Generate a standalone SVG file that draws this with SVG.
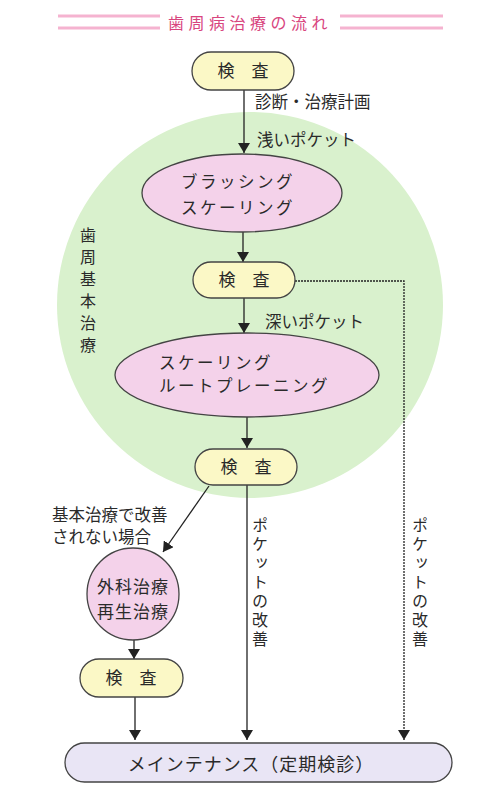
<svg xmlns="http://www.w3.org/2000/svg" width="500" height="797" viewBox="0 0 500 797">
<defs>
<marker id="ah" viewBox="0 0 10 12" refX="10" refY="6" markerWidth="10" markerHeight="12" markerUnits="userSpaceOnUse" orient="auto">
<path d="M0,0 L10,6 L0,12 Z" fill="#222"/>
</marker>
</defs>
<style>
text{font-family:"Noto Sans CJK JP","Noto Sans",sans-serif;fill:#2a2a2a}
.box{fill:#fbf8c6;stroke:#444;stroke-width:1.3}
.pink{fill:#f4d2ea;stroke:#444;stroke-width:1.3}
.lbl{font-size:16.5px}
.vt{font-size:16px;writing-mode:vertical-rl;text-orientation:upright}
.nd{font-size:17px;text-anchor:middle}
.el{font-size:16.5px;letter-spacing:2.5px}
.ln{fill:none;stroke:#222;stroke-width:1.3}
.dt{fill:none;stroke:#222;stroke-width:1.3;stroke-dasharray:2 1}
.tl{stroke:#f5b3d0;stroke-width:3}
</style>
<rect width="500" height="797" fill="#fff"/>
<g id="title">
<line class="tl" x1="58" y1="16" x2="160" y2="16"/>
<line class="tl" x1="58" y1="28" x2="160" y2="28"/>
<line class="tl" x1="340" y1="16" x2="443" y2="16"/>
<line class="tl" x1="340" y1="28" x2="443" y2="28"/>
<text x="250" y="29" text-anchor="middle" style="font-size:16px;letter-spacing:4.5px;fill:#d8457e">歯周病治療の流れ</text>
</g>
<g id="basic-area">
<circle cx="250" cy="305" r="193" fill="#d9f1cd"/>
<text x="88" y="227" class="vt" style="letter-spacing:6px">歯周基本治療</text>
</g>
<g id="connectors">
<line class="ln" x1="244" y1="90" x2="244" y2="153" marker-end="url(#ah)"/>
<line class="ln" x1="243" y1="232" x2="243" y2="262" marker-end="url(#ah)"/>
<line class="ln" x1="244" y1="298" x2="244" y2="333" marker-end="url(#ah)"/>
<line class="ln" x1="247" y1="417" x2="247" y2="448" marker-end="url(#ah)"/>
<line class="ln" x1="209" y1="486" x2="163" y2="552" marker-end="url(#ah)"/>
<line class="ln" x1="134" y1="640" x2="134" y2="659" marker-end="url(#ah)"/>
<line class="ln" x1="135" y1="697" x2="135" y2="740" marker-end="url(#ah)"/>
<line class="ln" x1="247" y1="485" x2="247" y2="740" marker-end="url(#ah)"/>
<path class="dt" d="M295,281 H404 V740" marker-end="url(#ah)"/>
<text x="255" y="108" class="lbl">診断・治療計画</text>
<text x="257" y="146" class="lbl">浅いポケット</text>
<text x="265" y="328" class="lbl">深いポケット</text>
<text x="52" y="521" class="lbl">基本治療で改善</text>
<text x="52" y="543" class="lbl">されない場合</text>
<text x="260" y="517" class="vt" style="letter-spacing:3px">ポケットの改善</text>
<text x="420" y="517" class="vt" style="letter-spacing:3px">ポケットの改善</text>
</g>
<g id="exam1">
<rect class="box" x="192" y="52" width="102" height="38" rx="19"/>
<text x="243" y="77" class="nd">検　査</text>
</g>
<g id="brushing">
<ellipse class="pink" cx="242" cy="193" rx="100" ry="39"/>
<text x="181" y="188" class="el">ブラッシング</text>
<text x="181" y="214" class="el">スケーリング</text>
</g>
<g id="exam2">
<rect class="box" x="193" y="262" width="102" height="36" rx="18"/>
<text x="244" y="286" class="nd">検　査</text>
</g>
<g id="srp">
<ellipse class="pink" cx="247" cy="375" rx="132" ry="42"/>
<text x="159" y="369" class="el">スケーリング</text>
<text x="159" y="392" class="el">ルートプレーニング</text>
</g>
<g id="exam3">
<rect class="box" x="195" y="449" width="102" height="36" rx="18"/>
<text x="246" y="473" class="nd">検　査</text>
</g>
<g id="surgery">
<circle class="pink" cx="133" cy="594" r="46"/>
<text x="133" y="593" class="nd" style="letter-spacing:1px">外科治療</text>
<text x="133" y="618" class="nd" style="letter-spacing:1px">再生治療</text>
</g>
<g id="exam4">
<rect class="box" x="80" y="659" width="103" height="38" rx="19"/>
<text x="131" y="684" class="nd">検　査</text>
</g>
<g id="maintenance">
<rect x="65" y="743" width="387" height="39" rx="19.5" fill="#e9e5f5" stroke="#444" stroke-width="1.3"/>
<text x="251" y="771" class="nd" style="font-size:18px;letter-spacing:1px">メインテナンス（定期検診）</text>
</g>
</svg>
